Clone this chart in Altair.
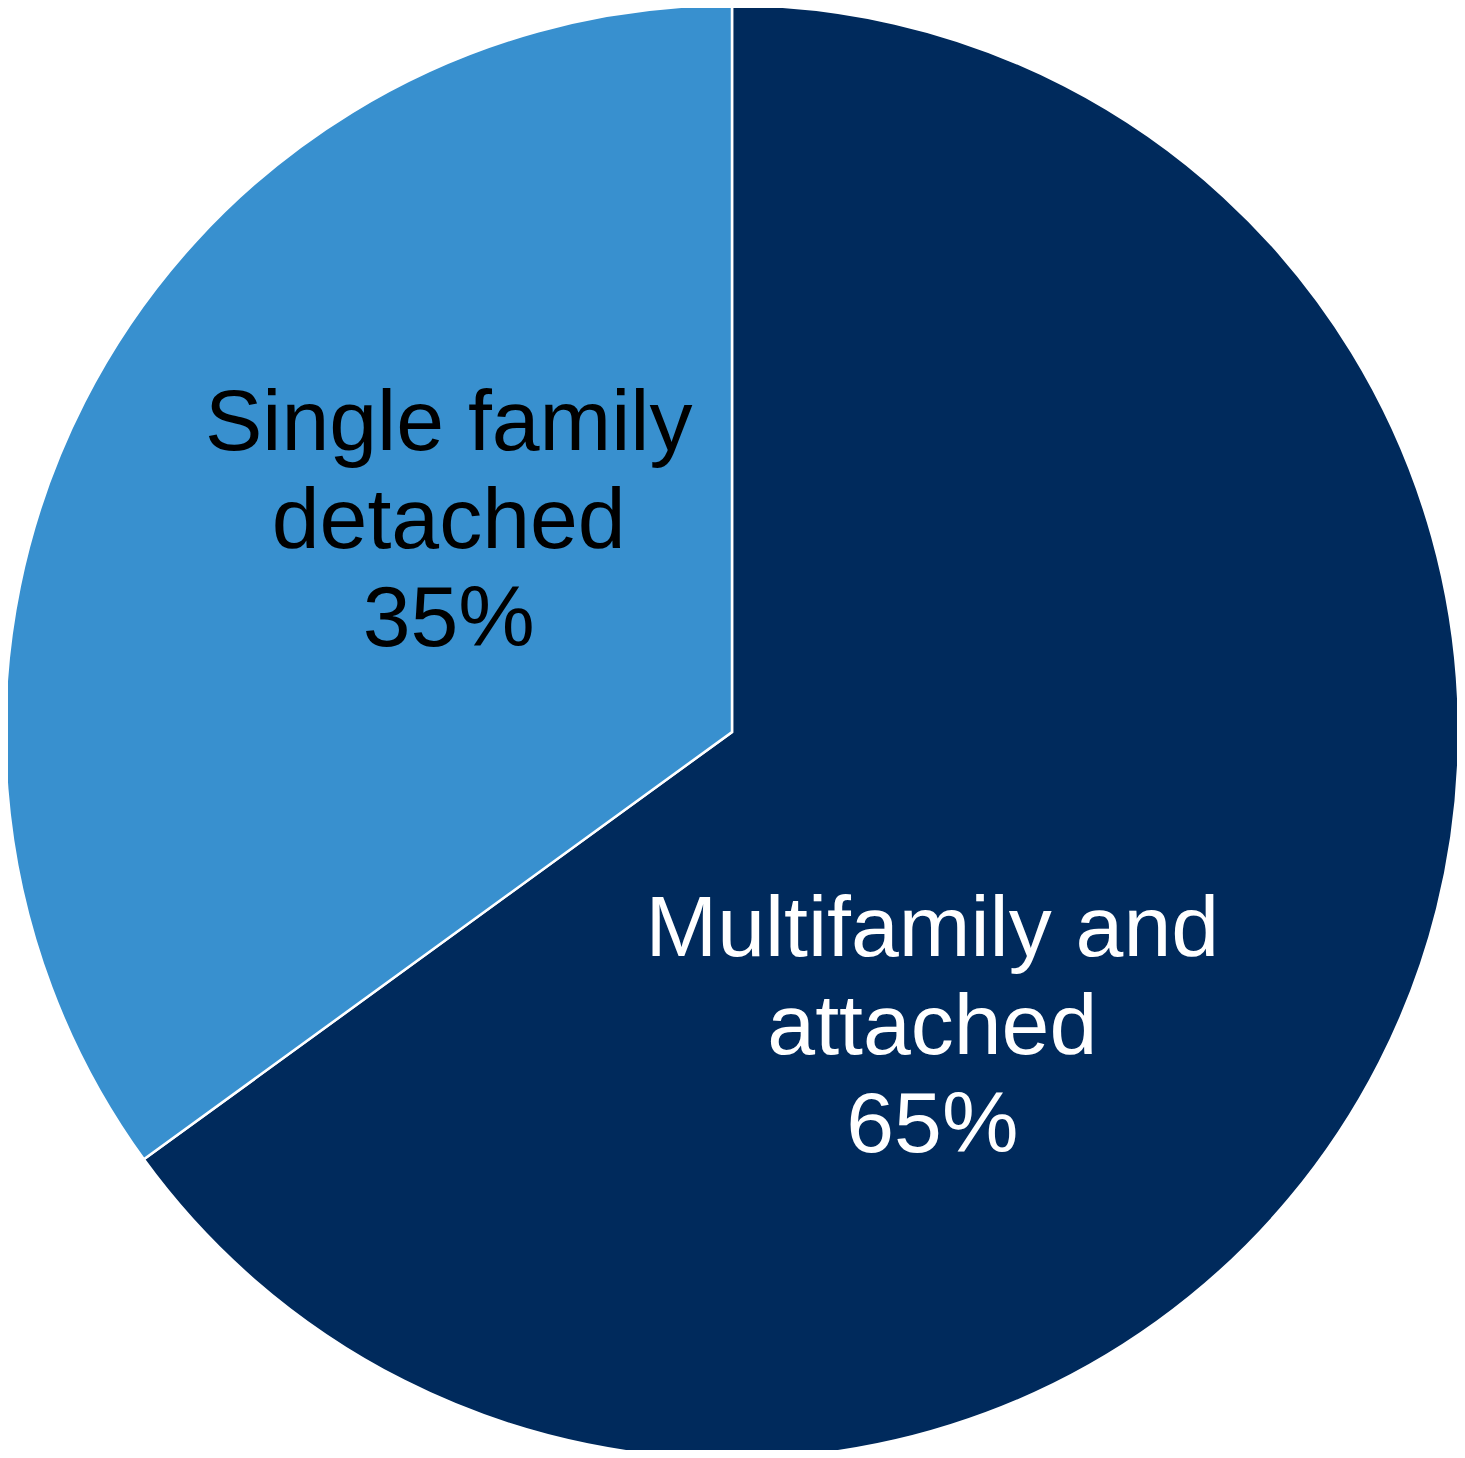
import altair as alt
import pandas as pd

categories = ["Multifamily and\nattached\n65%", "Single family\ndetached\n35%"]
keys = ["Multifamily and attached", "Single family detached"]
values = [65, 35]
colors = ["#002A5C", "#3890CF"]
text_colors = ["#FFFFFF", "#000000"]

df = pd.DataFrame({
    "key": keys,
    "label": categories,
    "value": values,
    "idx": list(range(len(keys))),
})

cx, cy, R = 724, 724, 727

base = alt.Chart(df).encode(
    theta=alt.Theta("value:Q", stack=True),
    order=alt.Order("idx:Q", sort="ascending"),
)

pie = base.mark_arc(stroke="white", strokeWidth=2.5).encode(
    color=alt.Color("key:N", scale=alt.Scale(domain=keys, range=colors), legend=None),
    x=alt.value(cx),
    y=alt.value(cy),
    radius=alt.value(R),
)

def label_layer(i, dx, dy):
    return base.mark_text(
        font="Liberation Sans", fontSize=86, lineHeight=98,
        align="center", baseline="middle", lineBreak="\n",
        color=text_colors[i], dx=dx, dy=dy,
    ).encode(
        text="label:N",
        x=alt.value(cx),
        y=alt.value(cy),
        radius=alt.value(355),
    )

# Both text layers use the full data so the stack matches; hide other label via opacity
multi = label_layer(0, -116, 37).encode(
    opacity=alt.condition(alt.datum.idx == 0, alt.value(1), alt.value(0))
)
single = label_layer(1, 33, -147).encode(
    opacity=alt.condition(alt.datum.idx == 1, alt.value(1), alt.value(0))
)

chart = alt.layer(pie, multi, single).properties(
    width=1449, height=1442, padding=0, autosize=alt.AutoSizeParams(type="none")
).configure_view(strokeWidth=0)

chart.save("out.html", embed_options={"renderer": "svg", "actions": False})
